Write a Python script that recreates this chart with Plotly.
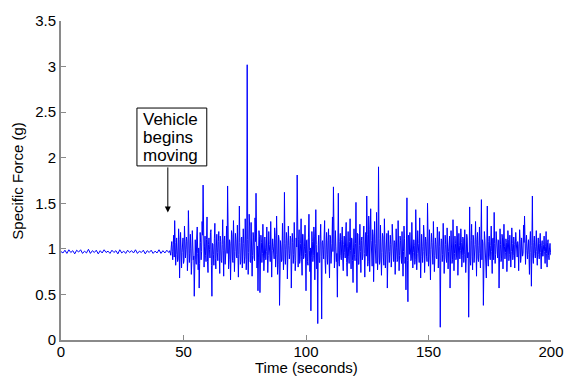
import numpy as np
import plotly.graph_objects as go

# Specific force at rest (sampled every 0.8 s from t = 0)
rest_force = [0.97, 0.955, 0.985, 0.95, 0.99, 0.96, 0.98, 0.945, 0.985, 0.965,
              0.99, 0.95, 0.975, 0.955, 0.995, 0.95, 0.98, 0.96, 0.985, 0.945,
              0.98, 0.955, 0.99, 0.96, 0.975, 0.95, 0.985, 0.96, 0.98, 0.945,
              0.99, 0.955, 0.975, 0.95, 0.985, 0.96, 0.98, 0.955, 0.99, 0.95,
              0.975, 0.96, 0.985, 0.945, 0.98, 0.96, 0.985, 0.95, 0.975, 0.955,
              0.99, 0.95, 0.98, 0.955, 0.985, 0.96]
rest_dt = 0.8

# Specific force while moving, 5 Hz clock: even ticks from 44.4 s to 200 s ...
move_start, move_end = 44.4, 200.0
moving_even = [
    0.98, 0.93, 1.08, 0.88, 1.15, 1.31, 0.82, 1.12, 0.86, 1.22, 0.68, 1.18, 0.79, 1.09, 0.84, 1.25, 0.90, 1.13, 0.76, 1.42, 0.85, 1.16, 0.72, 1.20, 0.88,
    0.48, 1.10, 0.83, 1.24, 0.77, 0.57, 1.18, 0.88, 1.30, 1.70, 0.80, 1.14, 0.86, 1.35, 0.74, 1.12, 0.90, 1.21, 0.48, 1.05, 0.82, 1.28, 0.78, 1.16, 0.87,
    1.19, 0.73, 1.08, 0.85, 1.32, 0.70, 1.14, 0.89, 1.25, 1.69, 0.78, 1.10, 0.66, 1.20, 0.87, 1.31, 0.75, 1.17, 0.92, 1.26, 0.69, 1.47, 0.83, 1.12, 0.79,
    1.22, 0.84, 1.33, 0.77, 3.02, 0.72, 1.38, 0.86, 1.29, 0.70, 1.18, 0.90, 1.34, 1.61, 0.79, 0.54, 1.20, 0.52, 1.15, 0.85, 1.27, 0.76, 1.13, 0.88, 1.24,
    0.74, 1.19, 0.87, 1.30, 0.69, 1.11, 0.92, 1.23, 0.80, 1.36, 0.72, 1.15, 0.38, 1.09, 0.86, 1.28, 0.77, 1.62, 0.83, 1.18, 0.67, 1.25, 0.89, 1.14, 0.57,
    1.17, 0.84, 1.29, 0.76, 1.12, 1.81, 0.80, 1.21, 0.88, 1.33, 0.71, 1.16, 0.91, 1.26, 0.54, 1.10, 0.82, 1.38, 0.75, 0.32, 1.19, 0.86, 1.24, 0.66, 1.43,
    0.78, 0.18, 1.15, 0.85, 1.27, 0.23, 1.09, 0.89, 1.31, 0.73, 1.18, 0.83, 1.22, 0.68, 1.13, 0.91, 1.35, 1.68, 0.79, 1.20, 0.86, 0.47, 1.61, 0.81, 1.17,
    0.88, 1.24, 0.76, 1.14, 0.90, 1.29, 0.70, 1.19, 0.84, 1.33, 0.78, 1.11, 0.63, 1.22, 0.87, 1.51, 0.52, 1.16, 0.83, 1.27, 0.74, 1.13, 0.92, 1.25, 0.69,
    1.18, 1.58, 0.81, 1.36, 0.75, 1.44, 0.86, 1.21, 0.64, 1.30, 0.89, 1.40, 0.77, 1.90, 0.83, 1.26, 0.71, 1.17, 0.90, 1.33, 0.79, 1.12, 0.57, 1.20, 0.85,
    1.15, 0.80, 1.27, 0.88, 1.09, 0.72, 1.22, 0.86, 1.31, 0.76, 1.14, 0.91, 1.19, 0.70, 1.25, 0.84, 0.55, 1.56, 0.42, 1.12, 1.18, 0.87, 1.29, 0.79, 1.10,
    0.83, 1.43, 0.77, 1.20, 0.89, 1.34, 0.68, 1.16, 0.85, 1.26, 0.74, 1.13, 0.92, 1.50, 0.81, 1.21, 0.66, 1.17, 0.88, 1.30, 0.75, 1.12, 0.90, 1.24, 0.79,
    1.19, 0.14, 1.11, 0.86, 1.28, 0.73, 1.15, 0.90, 1.23, 0.78, 1.10, 0.57, 1.20, 0.84, 1.32, 0.76, 1.14, 0.88, 1.25, 0.71, 1.17, 0.89, 1.22, 0.80, 1.13,
    0.85, 1.21, 0.74, 1.16, 0.90, 0.25, 1.46, 0.82, 1.27, 0.77, 1.12, 0.91, 1.30, 0.70, 1.18, 0.86, 1.24, 0.79, 1.54, 1.10, 0.38, 1.19, 0.83, 0.68, 1.47,
    0.81, 1.14, 0.88, 1.25, 0.73, 1.12, 1.40, 0.84, 1.19, 0.90, 1.10, 0.57, 1.22, 0.86, 1.16, 0.78, 1.27, 0.89, 1.11, 0.75, 1.20, 0.87, 1.15, 0.80, 1.23,
    0.88, 1.13, 0.79, 1.18, 0.91, 1.08, 0.76, 1.21, 0.85, 1.12, 0.92, 1.26, 1.36, 0.83, 1.15, 0.89, 1.10, 0.72, 1.19, 0.59, 1.58, 0.84, 1.14, 0.90, 1.20,
    0.82, 1.12, 0.89, 1.17, 0.78, 1.09, 0.92, 1.14, 0.84, 1.19, 0.80, 1.10, 0.88, 1.06, 0.93,
]
# ... and odd ticks, 0.2 s after each even one
moving_odd = [
    0.95, 1.02, 0.97, 1.05, 0.91, 1.07, 0.94, 1.03, 0.89, 1.10, 0.93, 1.01, 0.96, 1.12, 0.87, 1.04, 0.99, 1.08, 0.90, 1.06, 0.95, 1.00, 0.86, 1.09, 0.92,
    1.04, 0.88, 1.13, 0.95, 1.01, 0.84, 1.07, 0.97, 1.15, 0.90, 1.03, 0.93, 1.10, 0.86, 1.05, 0.99, 1.18, 0.82, 1.06, 0.94, 1.11, 0.89, 1.02, 0.96, 1.08,
    0.91, 1.14, 0.87, 1.05, 0.98, 1.09, 0.83, 1.02, 0.95, 1.12, 0.88, 1.06, 0.93, 1.16, 0.85, 1.03, 0.97, 1.10, 0.90, 1.01, 0.94, 1.07, 0.86, 1.13, 0.99,
    1.06, 0.92, 1.17, 0.88, 1.10, 0.96, 1.24, 0.85, 1.05, 0.93, 1.12, 0.87, 1.08, 0.98, 1.03, 0.90, 1.14, 0.84, 1.07, 0.95, 1.11, 0.89, 1.01, 0.97, 1.09,
    0.93, 1.05, 0.86, 1.12, 0.98, 1.03, 0.89, 1.15, 0.94, 1.08, 0.83, 1.10, 0.96, 1.02, 0.88, 1.13, 0.91, 1.06, 0.99, 1.09, 0.85, 1.04, 0.95, 1.11, 0.90,
    1.07, 0.94, 1.13, 0.87, 1.02, 0.97, 1.10, 0.84, 1.06, 0.92, 1.16, 0.89, 1.03, 0.95, 1.09, 0.86, 1.12, 0.98, 1.01, 0.90, 1.08, 0.93, 1.14, 0.88, 1.05,
    0.96, 1.04, 0.85, 1.11, 0.92, 1.07, 0.99, 1.13, 0.87, 1.02, 0.94, 1.09, 0.90, 1.15, 0.84, 1.06, 0.97, 1.10, 0.91, 1.03, 0.95, 1.12, 0.86, 1.08, 0.93,
    1.10, 0.89, 1.05, 0.96, 1.14, 0.85, 1.03, 0.92, 1.08, 0.98, 1.12, 0.87, 1.01, 0.94, 1.06, 0.90, 1.17, 0.83, 1.04, 0.97, 1.09, 0.88, 1.13, 0.95, 1.02,
    0.92, 1.16, 0.86, 1.21, 0.95, 1.09, 0.81, 1.14, 0.98, 1.06, 0.84, 1.19, 0.91, 1.11, 0.87, 1.04, 0.96, 1.13, 0.82, 1.08, 0.94, 1.17, 0.89, 1.02, 0.97,
    1.05, 0.90, 1.12, 0.86, 1.07, 0.95, 1.01, 0.88, 1.14, 0.93, 1.09, 0.84, 1.03, 0.97, 1.11, 0.91, 1.06, 0.87, 1.15, 0.94, 1.02, 0.89, 1.10, 0.96, 1.04,
    0.88, 1.13, 0.95, 1.06, 0.85, 1.10, 0.92, 1.03, 0.97, 1.15, 0.90, 1.08, 0.86, 1.12, 0.94, 1.01, 0.99, 1.07, 0.83, 1.11, 0.93, 1.05, 0.89, 1.14, 0.96,
    1.03, 0.87, 1.09, 0.94, 1.12, 0.90, 1.05, 0.85, 1.08, 0.97, 1.14, 0.92, 1.02, 0.88, 1.10, 0.95, 1.06, 0.91, 1.13, 0.86, 1.04, 0.98, 1.07, 0.93, 1.11,
    0.94, 1.07, 0.89, 1.12, 0.96, 1.03, 0.87, 1.09, 0.92, 1.15, 0.85, 1.05, 0.98, 1.10, 0.90, 1.04, 0.95, 1.13, 0.88, 1.06, 0.93, 1.11, 0.97, 1.02, 0.91,
    1.08, 0.92, 1.04, 0.97, 1.11, 0.88, 1.06, 0.94, 1.02, 0.90, 1.09, 0.95, 1.05, 0.89, 1.12, 0.93, 1.03, 0.96, 1.07, 0.91, 1.10, 0.94, 1.01, 0.97, 1.06,
    0.93, 1.05, 0.96, 1.08, 0.91, 1.03, 0.97, 1.10, 0.92, 1.04, 0.95, 1.07, 0.90, 1.06, 0.98, 1.02, 0.94, 1.09, 0.96, 1.04, 0.91, 1.07, 0.95, 1.03, 0.97,
    1.02, 0.94, 1.06, 0.96, 1.04, 0.92, 1.05, 0.97, 1.03, 0.95, 1.07, 0.93, 1.01, 0.96,
]

# Annotation: motion onset and label box
onset_time, onset_force = 43.6, 1.40
label_lines = ["Vehicle", "begins", "moving"]
label_box = dict(x0=31.0, x1=59.5, y0=1.91, y1=2.545)

x_ticks = [0, 50, 100, 150, 200]
y_ticks = [0, 0.5, 1, 1.5, 2, 2.5, 3, 3.5]

# assemble the time axis
t_rest = np.arange(len(rest_force)) * rest_dt
t_even = np.linspace(move_start, move_end, len(moving_even))
step = t_even[1] - t_even[0]
t_odd = t_even[:len(moving_odd)] + step / 2

t_move = np.empty(len(t_even) + len(t_odd))
f_move = np.empty_like(t_move)
t_move[0::2], f_move[0::2] = t_even, moving_even
t_move[1::2], f_move[1::2] = t_odd, moving_odd

time = np.concatenate([t_rest, t_move])
force = np.concatenate([rest_force, f_move])

FONT = "Liberation Sans, Arial, Helvetica, sans-serif"
AXIS_GRAY = "#8a8a8a"

fig = go.Figure()
fig.add_trace(go.Scatter(
    x=time, y=force, mode="lines",
    line=dict(color="#0000ff", width=1),
    hoverinfo="skip", showlegend=False,
))

# label box and its text
fig.add_shape(type="rect", xref="x", yref="y", **label_box,
              line=dict(color="black", width=1), fillcolor="white", layer="above")
box_h = label_box["y1"] - label_box["y0"]
for k, line in enumerate(label_lines):
    fig.add_annotation(
        x=label_box["x0"] + 1.6, y=label_box["y1"] - box_h * (0.2 + 0.31 * k),
        xref="x", yref="y", xanchor="left", yanchor="middle",
        text=line, showarrow=False,
        font=dict(family=FONT, size=17, color="black"),
    )

# arrow from the box down to the onset
fig.add_annotation(
    x=onset_time, y=onset_force, ax=onset_time, ay=label_box["y0"],
    xref="x", yref="y", axref="x", ayref="y",
    text="", showarrow=True, arrowhead=2, arrowsize=1.2, arrowwidth=1,
    arrowcolor="black",
)

# axis titles
fig.add_annotation(
    x=0.5, y=-0.052, xref="paper", yref="paper", yanchor="top",
    text="Time (seconds)", showarrow=False,
    font=dict(family=FONT, size=15, color="black"),
)
fig.add_annotation(
    x=-0.068, y=0.5, xref="paper", yref="paper", xanchor="right",
    text="Specific Force (g)", showarrow=False, textangle=-90,
    font=dict(family=FONT, size=15, color="black"),
)

fig.update_layout(
    width=576, height=376,
    margin=dict(l=61, r=24, t=14, b=36),
    paper_bgcolor="white", plot_bgcolor="white",
    font=dict(family=FONT, size=15, color="black"),
    hovermode=False,
)
fig.update_xaxes(
    range=[0, 200], tickvals=x_ticks, ticks="inside", ticklen=5,
    tickcolor=AXIS_GRAY, showline=True, linecolor=AXIS_GRAY, linewidth=2,
    showgrid=False, zeroline=False, mirror=False, ticklabelstandoff=-3,
    tickfont=dict(family=FONT, size=15, color="black"),
)
fig.update_yaxes(
    range=[0, 3.5], tickvals=y_ticks, ticks="inside", ticklen=5,
    tickcolor=AXIS_GRAY, showline=True, linecolor=AXIS_GRAY, linewidth=2,
    showgrid=False, zeroline=False, mirror=False,
    tickfont=dict(family=FONT, size=15, color="black"),
)

fig.write_html("out.html", config={"displayModeBar": False, "staticPlot": True})
